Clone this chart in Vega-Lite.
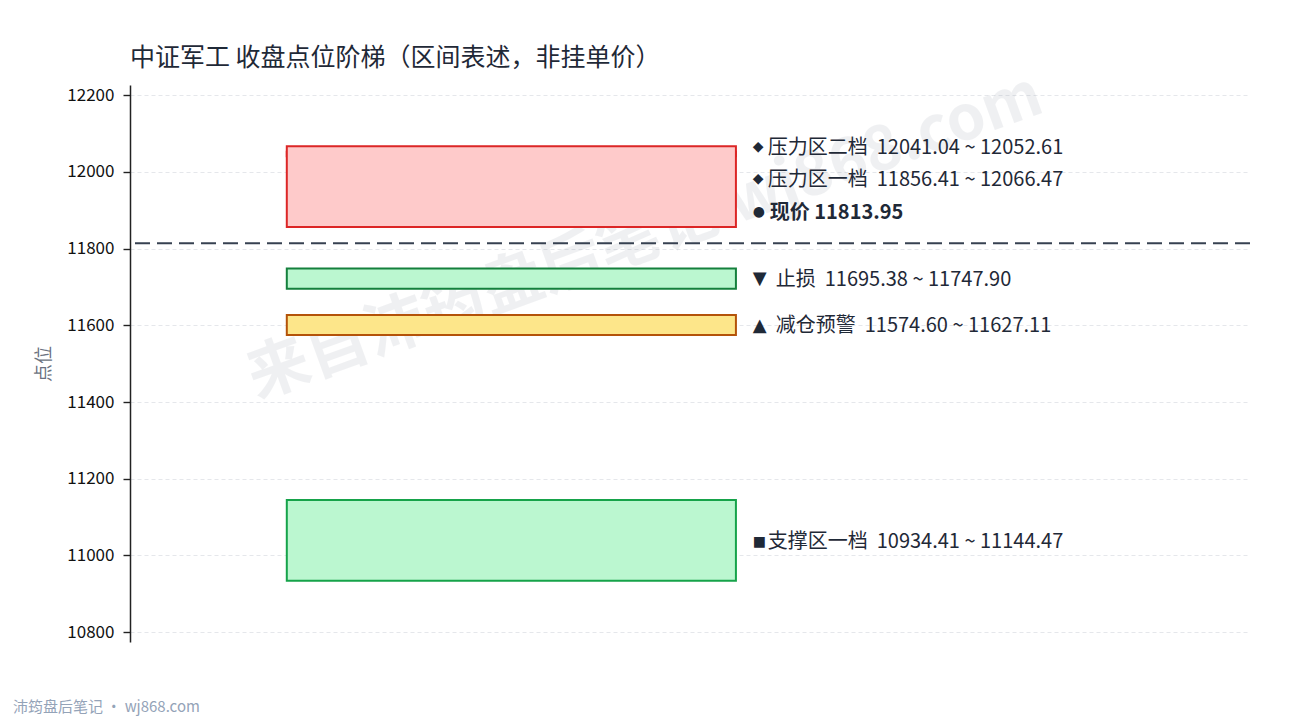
{
  "$schema": "https://vega.github.io/schema/vega-lite/v6.json",
  "autosize": {"type": "none"},
  "padding": {"left": 130, "top": 85, "right": 40, "bottom": 78},
  "width": 1120,
  "height": 557,
  "background": "white",
  "title": {
    "text": "中证军工 收盘点位阶梯（区间表述，非挂单价）",
    "anchor": "start",
    "frame": "group",
    "fontSize": 25,
    "fontWeight": "normal",
    "font": "Noto Sans CJK SC",
    "color": "#1f2937",
    "offset": -7
  },
  "datasets": {
    "zones": [
      {"zone": "压力区二档", "lo": 12041.04, "hi": 12052.61, "kind": "压力"},
      {"zone": "压力区一档", "lo": 11856.41, "hi": 12066.47, "kind": "压力"},
      {"zone": "止损", "lo": 11695.38, "hi": 11747.90, "kind": "止损"},
      {"zone": "减仓预警", "lo": 11574.60, "hi": 11627.11, "kind": "减仓"},
      {"zone": "支撑区一档", "lo": 10934.41, "hi": 11144.47, "kind": "支撑"}
    ],
    "labels": [
      {"kind": "压力", "sym": "◆", "ly": 12069.4, "text": "压力区二档\u00a0 12041.04 ~ 12052.61"},
      {"kind": "压力", "sym": "◆", "ly": 11985.8, "text": "压力区一档\u00a0 11856.41 ~ 12066.47"},
      {"kind": "现价", "sym": "●", "ly": 11899.7, "text": "现价 11813.95"},
      {"kind": "止损", "sym": "▼", "ly": 11724.7, "text": "止损\u00a0 11695.38 ~ 11747.90"},
      {"kind": "减仓", "sym": "▲", "ly": 11604.6, "text": "减仓预警\u00a0 11574.60 ~ 11627.11"},
      {"kind": "支撑", "sym": "■", "ly": 11040.5, "text": "支撑区一档\u00a0 10934.41 ~ 11144.47"}
    ],
    "price": [{"price": 11813.95}],
    "notes": [
      {"note": "watermark", "text": "来自沛筠盘后笔记 wj868.com"},
      {"note": "footer", "text": "沛筠盘后笔记 · wj868.com"}
    ]
  },
  "layer": [
    {
      "data": {"name": "notes"},
      "transform": [{"filter": "datum.note === 'watermark'"}],
      "mark": {
        "type": "text",
        "angle": 340,
        "fontSize": 62,
        "fontWeight": "bold",
        "font": "Noto Sans CJK SC",
        "fill": "#9ca3af",
        "opacity": 0.15,
        "align": "center",
        "baseline": "middle"
      },
      "encoding": {
        "x": {"datum": 0.46, "type": "quantitative", "scale": {"domain": [0, 1]}, "axis": null},
        "y": {"datum": 11830, "type": "quantitative"},
        "text": {"field": "text"}
      }
    },
    {
      "data": {"name": "zones"},
      "mark": {"type": "rect", "strokeWidth": 2},
      "encoding": {
        "x": {"datum": 0.14, "type": "quantitative", "scale": {"domain": [0, 1]}, "axis": null},
        "x2": {"datum": 0.541},
        "y": {
          "field": "lo",
          "type": "quantitative",
          "scale": {"domain": [10774.41, 12226.47], "nice": false, "zero": false},
          "axis": {
            "title": "点位",
            "values": [10800, 11000, 11200, 11400, 11600, 11800, 12000, 12200],
            "format": "d",
            "labelFontSize": 17,
            "labelColor": "#111111",
            "labelFont": "Noto Sans CJK SC",
            "titleFont": "Noto Sans CJK SC",
            "titleFontSize": 18,
            "titleFontWeight": "normal",
            "titleColor": "#6b7280",
            "titlePadding": 13,
            "domainColor": "#222222",
            "domainWidth": 1.5,
            "tickColor": "#222222",
            "tickSize": 7,
            "tickWidth": 1.4,
            "labelPadding": 9,
            "grid": true,
            "gridColor": "#e5e7eb",
            "gridDash": [4, 3],
            "gridWidth": 1
          }
        },
        "y2": {"field": "hi"},
        "fill": {
          "field": "kind",
          "type": "nominal",
          "scale": {"domain": ["压力", "止损", "减仓", "支撑"], "range": ["#fecaca", "#bbf7d0", "#fde68a", "#bbf7d0"]},
          "legend": null
        },
        "stroke": {
          "field": "kind",
          "type": "nominal",
          "scale": {"domain": ["压力", "止损", "减仓", "支撑"], "range": ["#dc2626", "#15803d", "#b45309", "#16a34a"]},
          "legend": null
        }
      }
    },
    {
      "data": {"name": "price"},
      "mark": {"type": "rule", "strokeDash": [15, 7], "strokeWidth": 2, "color": "#374151"},
      "encoding": {
        "y": {"field": "price", "type": "quantitative"}
      }
    },
    {
      "data": {"name": "labels"},
      "transform": [{"filter": "datum.kind !== '止损' && datum.kind !== '减仓'"}],
      "mark": {"type": "text", "align": "left", "baseline": "middle", "dy": 2, "fontSize": 14, "font": "DejaVu Sans", "color": "#1f2937"},
      "encoding": {
        "x": {"datum": 0.556, "type": "quantitative"},
        "y": {"field": "ly", "type": "quantitative"},
        "text": {"field": "sym"}
      }
    },
    {
      "data": {"name": "labels"},
      "transform": [{"filter": "datum.kind === '止损' || datum.kind === '减仓'"}],
      "mark": {"type": "text", "align": "left", "baseline": "middle", "dy": 2, "fontSize": 18, "font": "DejaVu Sans", "color": "#1f2937"},
      "encoding": {
        "x": {"datum": 0.556, "type": "quantitative"},
        "y": {"field": "ly", "type": "quantitative"},
        "text": {"field": "sym"}
      }
    },
    {
      "data": {"name": "labels"},
      "transform": [{"filter": "datum.kind === '压力' || datum.kind === '支撑'"}],
      "mark": {"type": "text", "align": "left", "baseline": "middle", "dx": 15, "dy": 2.5, "fontSize": 20, "font": "Noto Sans CJK SC", "color": "#1f2937"},
      "encoding": {
        "x": {"datum": 0.556, "type": "quantitative"},
        "y": {"field": "ly", "type": "quantitative"},
        "text": {"field": "text"}
      }
    },
    {
      "data": {"name": "labels"},
      "transform": [{"filter": "datum.kind === '现价'"}],
      "mark": {"type": "text", "align": "left", "baseline": "middle", "dx": 17, "dy": 2.5, "fontSize": 20, "fontWeight": "bold", "font": "Noto Sans CJK SC", "color": "#1f2937"},
      "encoding": {
        "x": {"datum": 0.556, "type": "quantitative"},
        "y": {"field": "ly", "type": "quantitative"},
        "text": {"field": "text"}
      }
    },
    {
      "data": {"name": "labels"},
      "transform": [{"filter": "datum.kind === '止损' || datum.kind === '减仓'"}],
      "mark": {"type": "text", "align": "left", "baseline": "middle", "dx": 23, "dy": 2.5, "fontSize": 20, "font": "Noto Sans CJK SC", "color": "#1f2937"},
      "encoding": {
        "x": {"datum": 0.556, "type": "quantitative"},
        "y": {"field": "ly", "type": "quantitative"},
        "text": {"field": "text"}
      }
    },
    {
      "data": {"name": "notes"},
      "transform": [{"filter": "datum.note === 'footer'"}],
      "mark": {"type": "text", "align": "left", "baseline": "middle", "fontSize": 15, "font": "Noto Sans CJK SC", "color": "#94a3b8"},
      "encoding": {
        "x": {"datum": -0.1045, "type": "quantitative"},
        "y": {"datum": 10604, "type": "quantitative"},
        "text": {"field": "text"}
      }
    }
  ],
  "config": {
    "view": {"stroke": null}
  }
}
